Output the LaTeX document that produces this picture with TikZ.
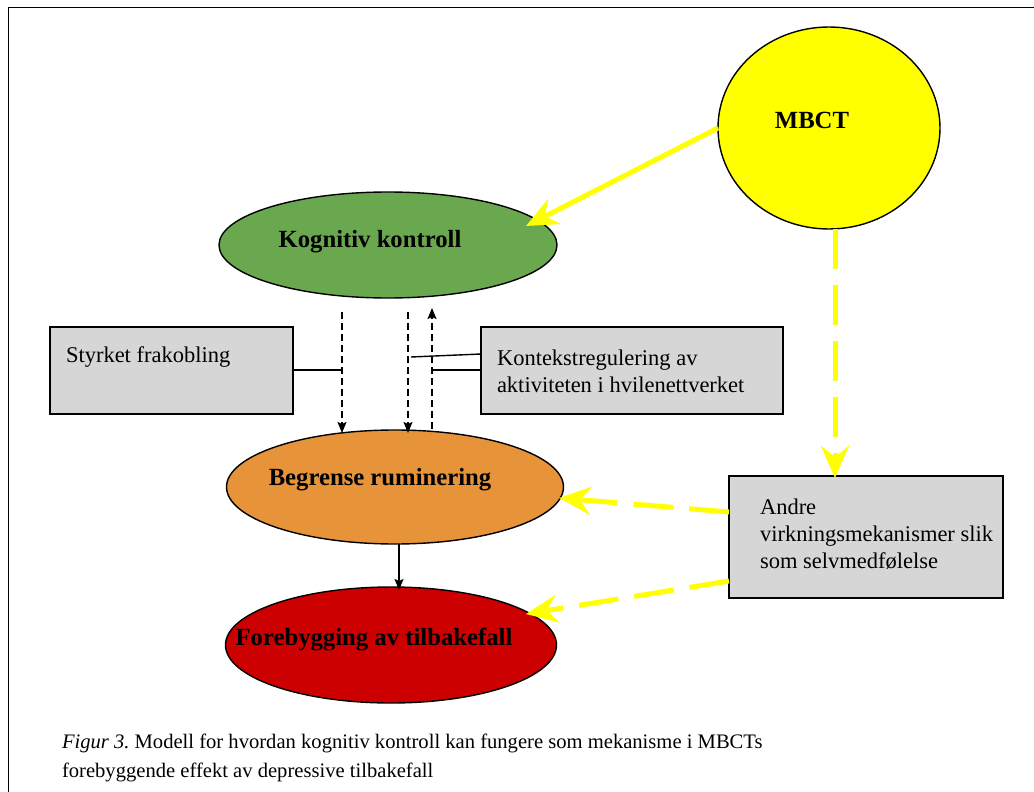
\documentclass[tikz,border=0pt]{standalone}
\usepackage{fontspec}
\setmainfont{Liberation Serif}
\usetikzlibrary{shapes.geometric,arrows.meta}
\definecolor{kgreen}{HTML}{6AA84F}
\definecolor{korange}{HTML}{E6933A}
\definecolor{kred}{HTML}{CC0000}
\definecolor{kgray}{HTML}{D6D6D6}
\definecolor{kyellow}{HTML}{FFFF00}
\frenchspacing
\begin{document}
\begin{tikzpicture}[x=1pt,y=-1pt,
  every node/.style={font=\fontsize{22.5}{27}\selectfont, inner sep=0, outer sep=0},
  oval/.style={shape=ellipse, draw=black, line width=1.4pt},
  graybox/.style={draw=black, fill=kgray, line width=1.4pt, anchor=north west},
  lbl/.style={anchor=west, align=left},
  caplbl/.style={anchor=west, font=\fontsize{20.6}{28}\selectfont},
  blbl/.style={font=\fontsize{24.7}{30}\selectfont\bfseries},
  dasharrow/.style={draw=black, line width=1.5pt, dash pattern=on 7 off 4, -{Stealth[length=11,width=9,inset=2]}},
  plainarrow/.style={draw=black, line width=1.4pt, -{Stealth[length=11,width=9,inset=2]}},
  inhib/.style={draw=black, line width=1.4pt},
  yarrow/.style={draw=kyellow, line width=5pt, -{Stealth[length=32,width=28,inset=11]}},
  ydash/.style={yarrow, dash pattern=on 40 off 16}
]
\useasboundingbox (0,0) rectangle (1034,792);
% frame
\draw[line width=1.6pt] (8.5,792) -- (8.5,7.5) -- (1034,7.5);

% ellipses
\node[oval, fill=kyellow, minimum width=222, minimum height=202] (mbct) at (829,128) {};
\node[blbl] (mbcttxt) at (812,120) {MBCT};

\node[oval, fill=kgreen, minimum width=338, minimum height=106] (kog) at (388,245) {};
\node[blbl] (kogtxt) at (370,242) {Kognitiv kontroll};

\node[oval, fill=korange, minimum width=337, minimum height=114] (beg) at (395,487) {};
\node[blbl] (begtxt) at (380,480) {Begrense ruminering};

\node[oval, fill=kred, minimum width=331, minimum height=116] (fore) at (391,645) {};
\node[blbl] (foretxt) at (374,640) {Forebygging av tilbakefall};

% boxes
\node[graybox, minimum width=243, minimum height=87] (sty) at (50,327) {};
\node[lbl] (stytxt) at (66,357) {Styrket frakobling};

\node[graybox, minimum width=302, minimum height=87] (kon) at (481,327) {};
\node[lbl] (kontxt) at (497,371) {Kontekstregulering av\\aktiviteten i hvilenettverket};

\node[graybox, minimum width=274, minimum height=122] (andre) at (729,476) {};
\node[lbl] (andretxt) at (760,534) {Andre\\virkningsmekanismer slik\\som selvmedfølelse};

% dashed vertical arrows
\coordinate (a1s) at (342,312);
\coordinate (a1e) at (342,433);
\coordinate (a2s) at (408,312);
\coordinate (a2e) at (408,433);
\coordinate (a3s) at (432,429);
\coordinate (a3e) at (432,308);
\draw[dasharrow] (a1s) -- (a1e);
\draw[dasharrow] (a2s) -- (a2e);
\draw[dasharrow] (a3s) -- (a3e);

% inhibition lines
\coordinate (i1) at (343,370);
\coordinate (i2) at (411,357);
\coordinate (i3) at (433,370);
\draw[inhib] (sty.east |- i1) -- (i1);
\draw[inhib] (kon.west |- 0,354) -- (i2);
\draw[inhib] (kon.west |- i3) -- (i3);

% black arrow
\draw[plainarrow] (beg.south -| 399,0) -- (399,590);

% yellow arrows
\coordinate (ytip1) at (526,226);
\draw[yarrow] (mbct.west) -- (ytip1);
\coordinate (ytip2) at (835,478);
\draw[ydash] (mbct.south -| ytip2) -- (ytip2);
\coordinate (ytip3) at (559,498);
\draw[ydash] (andre.west |- 0,512) -- (ytip3);
\coordinate (ytip4) at (526,614);
\draw[ydash] (andre.west |- 0,581) -- (ytip4);

% caption
\node[caplbl] (cap) at (62,743) {\textit{Figur 3.} Modell for hvordan kognitiv kontroll kan fungere som mekanisme i MBCTs};
\node[caplbl] (cap2) at (62,772) {forebyggende effekt av depressive tilbakefall};
\end{tikzpicture}
\end{document}
